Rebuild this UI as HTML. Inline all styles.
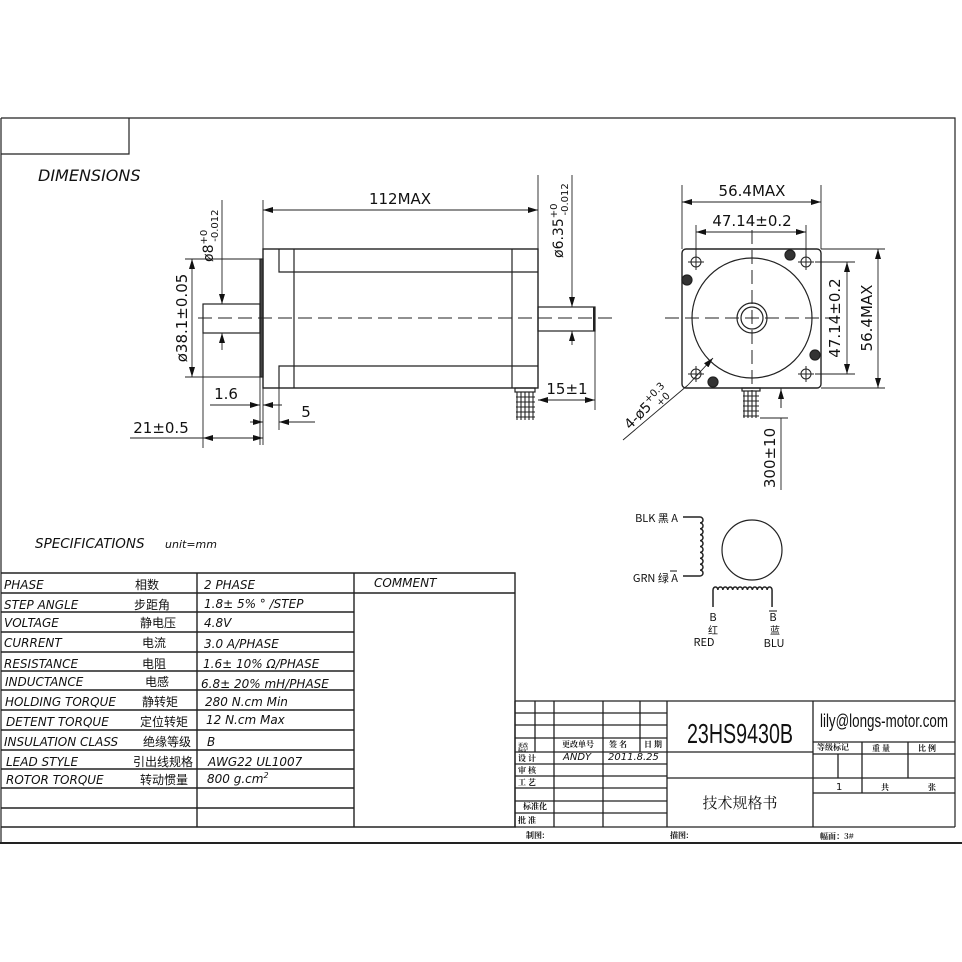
<!DOCTYPE html>
<html><head><meta charset="utf-8"><style>
html,body{margin:0;padding:0;background:#fff;}
svg{display:block;}
text{font-family:"Liberation Sans","Noto Sans CJK SC",sans-serif;fill:#111;}
.d{font-family:"DejaVu Sans","Liberation Sans",sans-serif;font-size:15px;}
.i{font-family:"DejaVu Sans","Liberation Sans","Noto Sans CJK SC",sans-serif;font-style:italic;font-size:12px;}
.c{font-family:"Noto Sans CJK SC","WenQuanYi Zen Hei",sans-serif;font-size:12px;font-style:normal;}
.s{font-family:"Noto Serif CJK SC","Noto Sans CJK SC",serif;font-size:8px;font-weight:bold;font-style:normal;}
</style></head><body>
<svg width="962" height="962" viewBox="0 0 962 962" xmlns="http://www.w3.org/2000/svg">
<defs>
<marker id="a" viewBox="0 0 10 6" refX="10" refY="3" markerWidth="10" markerHeight="6" orient="auto-start-reverse" markerUnits="userSpaceOnUse"><path d="M0,0L10,3L0,6z" fill="#111"/></marker>
</defs>
<g stroke="#222" fill="none" stroke-width="1.2">
<path d="M1,118H955V827M1,118V843M1,154H129V118"/>
<path d="M0,843H962" stroke-width="2"/>

<rect x="263" y="249" width="275" height="139" stroke-width="1.4"/>
<rect x="260" y="259" width="3" height="118" fill="#444"/>
<path d="M279,249V272H538M279,388V366H538M294,249V388M512,249V388"/>
<rect x="203" y="304" width="57" height="29"/>
<rect x="538" y="307" width="57" height="24"/>
<path d="M594,307V331" stroke-width="2"/>
<path d="M198,318H612" stroke-dasharray="14,6" stroke-width="1"/>
<rect x="515" y="388" width="20" height="4"/>
<g stroke-width="1.1"><path d="M517,392V420M521,392V420M525,392V420M529,392V420M533,392V420M516,397H535M516,402H535M516,407H535M516,412H535M516,417H535"/></g>

<g stroke-width="0.9">
<path d="M263,249V200M538,249V175"/>
<path d="M263,210H538" marker-start="url(#a)" marker-end="url(#a)"/>
<path d="M222,200V304" marker-end="url(#a)"/><path d="M222,350V333" marker-end="url(#a)"/>
<path d="M185,259H260M185,377H260"/>
<path d="M192,259V377" marker-start="url(#a)" marker-end="url(#a)"/>
<path d="M572,175V307" marker-end="url(#a)"/><path d="M572,345V331" marker-end="url(#a)"/>
<path d="M595,331V410"/>
<path d="M538,400H595" marker-start="url(#a)" marker-end="url(#a)"/>
<path d="M260,377V445M263,388V445M279,388V430M203,333V448"/>
<path d="M210,405H260" marker-end="url(#a)"/><path d="M282,405H263" marker-end="url(#a)"/>
<path d="M250,422H263" marker-end="url(#a)"/><path d="M315,422H279" marker-end="url(#a)"/>
<path d="M130,438H203" /><path d="M203,438H263" marker-start="url(#a)" marker-end="url(#a)"/>
</g>

<rect x="682" y="249" width="139" height="139" rx="4" stroke-width="1.4"/>
<circle cx="752" cy="318" r="60"/>
<circle cx="752" cy="318" r="15"/><circle cx="752" cy="318" r="11"/>
<g stroke-width="1">
<circle cx="696" cy="262" r="5"/><circle cx="806" cy="262" r="5"/><circle cx="696" cy="374" r="5"/><circle cx="806" cy="374" r="5"/>
<path d="M688,262H704M696,254V270M798,262H814M806,254V270M688,374H704M696,366V382M798,374H814M806,366V382"/>
</g>
<g fill="#333"><circle cx="790" cy="255" r="5"/><circle cx="687" cy="280" r="5"/><circle cx="815" cy="355" r="5"/><circle cx="713" cy="382" r="5"/></g>
<path d="M665,318H838M752,230V402" stroke-dasharray="14,6" stroke-width="1"/>
<rect x="742" y="388" width="18" height="3"/>
<g stroke-width="1.1"><path d="M744,391V418M748,391V418M752,391V418M756,391V418M743,396H759M743,401H759M743,406H759M743,411H759M743,416H759"/></g>
<g stroke-width="0.9">
<path d="M682,249V185M821,249V185"/>
<path d="M682,202H821" marker-start="url(#a)" marker-end="url(#a)"/>
<path d="M696,262V225M806,262V225"/>
<path d="M696,232H806" marker-start="url(#a)" marker-end="url(#a)"/>
<path d="M815,262H855M815,374H855"/>
<path d="M847,262V374" marker-start="url(#a)" marker-end="url(#a)"/>
<path d="M821,249H885M821,388H885"/>
<path d="M878,249V388" marker-start="url(#a)" marker-end="url(#a)"/>
<path d="M623,440L688,385"/><path d="M688,385L713,358" marker-end="url(#a)"/>
<path d="M760,418H788"/>
<path d="M781,490V418M781,408V388" /><path d="M781,408V389" marker-end="url(#a)"/>
</g>

<g stroke-width="1.5">
<path d="M683,517H700"/>
<path d="M700,517a3,2.95 0 0 1 0,5.9a3,2.95 0 0 1 0,5.9a3,2.95 0 0 1 0,5.9a3,2.95 0 0 1 0,5.9a3,2.95 0 0 1 0,5.9a3,2.95 0 0 1 0,5.9a3,2.95 0 0 1 0,5.9a3,2.95 0 0 1 0,5.9a3,2.95 0 0 1 0,5.9a3,2.95 0 0 1 0,5.9H683"/>
<path d="M713,607V590a2.46,3 0 0 1 4.92,0a2.46,3 0 0 1 4.92,0a2.46,3 0 0 1 4.92,0a2.46,3 0 0 1 4.92,0a2.46,3 0 0 1 4.92,0a2.46,3 0 0 1 4.92,0a2.46,3 0 0 1 4.92,0a2.46,3 0 0 1 4.92,0a2.46,3 0 0 1 4.92,0a2.46,3 0 0 1 4.92,0a2.46,3 0 0 1 4.92,0a2.46,3 0 0 1 4.92,0V607"/>
</g>
<circle cx="752" cy="550" r="30"/>

<g stroke-width="1.4">
<path d="M1,573H515V827H1M1,593H515M1,612H354M1,632H354M1,652H354M1,671H354M1,690H354M1,710H354M1,730H354M1,750H354M1,769H354M1,788H354M1,808H354M197,573V827M354,573V827"/>
</g>

<g stroke-width="1.3">
<path d="M515,701H955M515,701V827M667,701V827M813,701V827M515,827H955"/>
<path d="M515,713H667M515,725H667M515,738H667M515,752H813M515,764H667M515,776H667M515,788H667M515,801H667M515,813H667M667,778H813"/>
<path d="M535,701V752M554,701V827M603,701V827M640,701V752"/>
<path d="M813,742H955M813,754H955M813,778H955M813,793H955M862,742V793M908,742V778M838,754V778"/>
</g>
</g>

<text x="38" y="181" class="i" style="font-size:16px">DIMENSIONS</text>
<text x="35" y="548" class="i" style="font-size:13.5px">SPECIFICATIONS</text>
<text x="165" y="548" class="i" style="font-size:11px">unit=mm</text>

<text x="400" y="204" class="d" text-anchor="middle">112MAX</text>
<text transform="translate(213,262) rotate(-90)" class="d" style="font-size:14px">ø8<tspan font-size="10" dy="-6">+0</tspan><tspan font-size="10" dx="-12" dy="11">-0.012</tspan></text>
<text transform="translate(187,318) rotate(-90)" class="d" text-anchor="middle">ø38.1±0.05</text>
<text transform="translate(563,258) rotate(-90)" class="d" style="font-size:14px">ø6.35<tspan font-size="10" dy="-6">+0</tspan><tspan font-size="10" dx="-12" dy="11">-0.012</tspan></text>
<text x="567" y="394" class="d" text-anchor="middle">15±1</text>
<text x="226" y="399" class="d" text-anchor="middle">1.6</text>
<text x="306" y="417" class="d" text-anchor="middle">5</text>
<text x="161" y="433" class="d" text-anchor="middle">21±0.5</text>

<text x="752" y="196" class="d" text-anchor="middle">56.4MAX</text>
<text x="752" y="226" class="d" text-anchor="middle">47.14±0.2</text>
<text transform="translate(840,318) rotate(-90)" class="d" text-anchor="middle">47.14±0.2</text>
<text transform="translate(872,318) rotate(-90)" class="d" text-anchor="middle">56.4MAX</text>
<text transform="translate(630,430) rotate(-45)" class="d" style="font-size:14px">4-ø5<tspan font-size="10" dy="-6">+0.3</tspan><tspan font-size="10" dx="-18" dy="11">+0</tspan></text>
<text transform="translate(775,458) rotate(-90)" class="d" text-anchor="middle">300±10</text>

<text x="678" y="522" class="c" text-anchor="end" style="font-size:11px">BLK 黑 A</text>
<text x="678" y="582" class="c" text-anchor="end" style="font-size:11px">GRN 绿 A</text>
<path d="M670,571H677" stroke="#111"/>
<text x="713" y="621" class="c" text-anchor="middle" style="font-size:11px">B</text>
<text x="713" y="634" class="c" text-anchor="middle" style="font-size:10px">红</text>
<text x="704" y="646" class="c" text-anchor="middle" style="font-size:11px">RED</text>
<text x="773" y="621" class="c" text-anchor="middle" style="font-size:11px">B</text>
<path d="M769,611H777" stroke="#111"/>
<text x="775" y="634" class="c" text-anchor="middle" style="font-size:10px">蓝</text>
<text x="774" y="647" class="c" text-anchor="middle" style="font-size:11px">BLU</text>

<g>
<text x="4" y="589" class="i">PHASE</text><text x="135" y="589" class="c">相数</text><text x="204" y="589" class="i">2  PHASE</text>
<text x="374" y="587" class="i">COMMENT</text>
<text x="4" y="609" class="i">STEP ANGLE</text><text x="134" y="609" class="c">步距角</text><text x="204" y="608" class="i">1.8± 5% ° /STEP</text>
<text x="4" y="627" class="i">VOLTAGE</text><text x="140" y="627" class="c">静电压</text><text x="204" y="627" class="i">4.8V</text>
<text x="4" y="647" class="i">CURRENT</text><text x="142" y="647" class="c">电流</text><text x="204" y="648" class="i">3.0 A/PHASE</text>
<text x="4" y="668" class="i">RESISTANCE</text><text x="142" y="668" class="c">电阻</text><text x="203" y="668" class="i">1.6± 10%  Ω/PHASE</text>
<text x="5" y="686" class="i">INDUCTANCE</text><text x="145" y="686" class="c">电感</text><text x="201" y="688" class="i">6.8± 20% mH/PHASE</text>
<text x="5" y="706" class="i">HOLDING TORQUE</text><text x="142" y="706" class="c">静转矩</text><text x="205" y="706" class="i">280  N.cm Min</text>
<text x="6" y="726" class="i">DETENT TORQUE</text><text x="140" y="726" class="c">定位转矩</text><text x="206" y="724" class="i">12 N.cm Max</text>
<text x="4" y="746" class="i">INSULATION CLASS</text><text x="143" y="746" class="c">绝缘等级</text><text x="207" y="746" class="i">B</text>
<text x="6" y="766" class="i">LEAD STYLE</text><text x="133" y="766" class="c">引出线规格</text><text x="208" y="766" class="i">AWG22 UL1007</text>
<text x="6" y="784" class="i">ROTOR TORQUE</text><text x="140" y="784" class="c">转动惯量</text><text x="207" y="783" class="i">800 g.cm<tspan font-size="8" dy="-5">2</tspan></text>
</g>

<text x="740" y="743" text-anchor="middle" style="font-size:28px" textLength="106" lengthAdjust="spacingAndGlyphs">23HS9430B</text>
<text x="740" y="808" text-anchor="middle" class="c" style="font-family:'Noto Serif CJK SC',serif;font-size:15px">技术规格书</text>
<text x="884" y="727" text-anchor="middle" style="font-size:18px" textLength="128" lengthAdjust="spacingAndGlyphs">lily@longs-motor.com</text>
<text x="817" y="750" class="s">等级标记</text><text x="872" y="751" class="s">重  量</text><text x="918" y="751" class="s">比    例</text>
<text x="836" y="790" class="d" style="font-size:10px">1</text><text x="881" y="790" class="s">共</text><text x="928" y="790" class="s">张</text>
<text x="518" y="747" class="s" style="font-size:5px">更改</text><text x="518" y="752" class="s" style="font-size:5px">标记</text>
<text x="562" y="747" class="s">更改单号</text><text x="609" y="747" class="s">签   名</text><text x="644" y="747" class="s">日 期</text>
<text x="518" y="761" class="s">设    计</text><text x="563" y="760" class="i" style="font-size:10px">ANDY</text><text x="608" y="760" class="i" style="font-size:10px">2011.8.25</text>
<text x="518" y="773" class="s">审    核</text>
<text x="518" y="785" class="s">工    艺</text>
<text x="523" y="809" class="s">标准化</text>
<text x="518" y="823" class="s">批    准</text>
<text x="526" y="838" class="s">制图:</text>
<text x="670" y="838" class="s">描图:</text>
<text x="820" y="839" class="s">幅面：3#</text>
</svg>
</body></html>
